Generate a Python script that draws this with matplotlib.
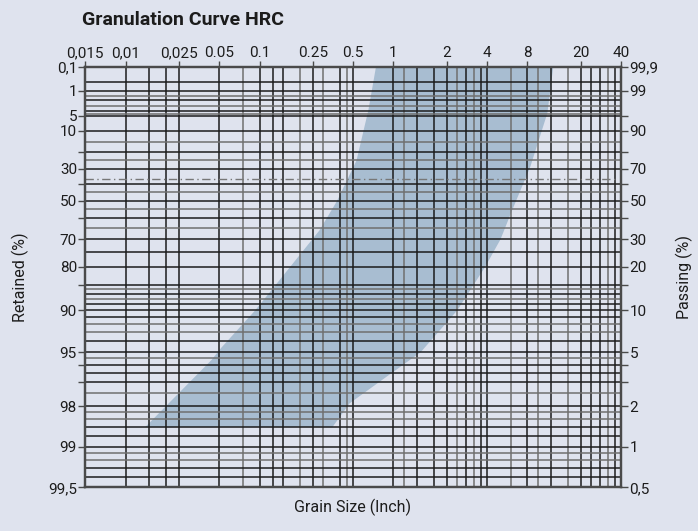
import numpy as np
import matplotlib
matplotlib.use("Agg")
import matplotlib.pyplot as plt

BG = "#dfe3ee"
BAND = "#a8bdd1"
DARK = "#1c1c1c"
GRAY = "#6f6f6f"
FRAME = "#4a4a4a"

# grain size axis (inch); printed labels sit on these log positions
x_tick_pos = [0.005, 0.01, 0.025, 0.05, 0.1, 0.25, 0.5, 1, 2.5, 5, 10, 25, 50]
x_tick_labels = ["0,015", "0,01", "0,025", "0.05", "0.1", "0.25", "0.5",
                 "1", "2", "4", "8", "20", "40"]
x_grid_major = [0.01, 0.015, 0.02, 0.025, 0.05, 0.1, 0.125, 0.15, 0.25, 0.4,
                0.5, 1, 1.5, 2, 2.5, 3.5, 4.5, 5, 10, 15, 25, 30, 35, 45]
x_grid_minor = [0.075, 0.2, 0.3, 0.45, 1.2, 3, 4, 7.5, 12, 20, 40]

# retained (%) axis, Rosin-Rammler scale
y_ticks = [0.1, 1, 5, 10, 20, 30, 40, 50, 60, 70, 80, 85, 90, 95, 96, 97, 98, 99, 99.5]
y_left_labels = ["0,1", "1", "5", "10", "", "30", "", "50", "", "70", "80", "",
                 "90", "95", "", "", "98", "99", "99,5"]
y_right_labels = ["99,9", "99", "", "90", "", "70", "", "50", "", "30", "20", "",
                  "10", "5", "", "", "2", "1", "0,5"]
y_grid_major = [0.5, 1, 2, 4, 5, 10, 20, 30, 40, 50, 60, 70, 75, 80, 85, 87, 89,
                90, 91, 94, 95, 96, 96.5, 97, 98, 98.6, 98.8, 99, 99.3, 99.4]
y_grid_minor = [1.5, 3, 4.5, 15, 25, 45, 55, 65, 86, 88, 92, 93, 95.5, 97.5,
                98.2, 98.4, 99.1, 99.2]
char_line = 100 / np.e  # 36.8 % retained

# HRC band limits
fine_size = [0.74, 0.65, 0.53, 0.38, 0.28, 0.17, 0.093, 0.052, 0.044, 0.014]
fine_ret = [0.1, 3.7, 25, 50, 66, 80, 90, 94.6, 95.6, 98.6]
coarse_size = [15.6, 14.1, 10.5, 7.7, 6.3, 4.85, 3.0, 1.6, 0.47, 0.35]
coarse_ret = [0.1, 4.4, 29, 55.5, 70, 80, 90, 95, 97.9, 98.6]


def fwd(r):
    r = np.clip(r, 1e-9, 100 - 1e-9)
    return -np.log10(np.log(100.0 / r))


def inv(g):
    return 100.0 * np.exp(-10.0 ** (-np.asarray(g)))


plt.rcParams["font.family"] = ["Roboto", "DejaVu Sans"]

fig = plt.figure(figsize=(6.98, 5.31), dpi=100, facecolor=BG)
ax = fig.add_axes([85.3 / 698, 1 - 487.3 / 531, (621 - 85.3) / 698, (487.3 - 67) / 531])
ax.set_facecolor(BG)
ax.set_xscale("log")
ax.set_yscale("function", functions=(fwd, inv))
ax.set_xlim(0.005, 50)
ax.set_ylim(99.5, 0.1)

ax.fill(np.r_[fine_size, coarse_size[::-1]], np.r_[fine_ret, coarse_ret[::-1]],
        color=BAND, lw=0, zorder=1)

for v in x_grid_major:
    ax.axvline(v, color=DARK, lw=1.1, zorder=2)
for v in x_grid_minor:
    ax.axvline(v, color=GRAY, lw=1.1, zorder=2)
for v in y_grid_major:
    ax.axhline(v, color=DARK, lw=1.1, zorder=2)
for v in y_grid_minor:
    ax.axhline(v, color=GRAY, lw=1.1, zorder=2)
ax.axhline(char_line, xmax=0.99, color="#777777", lw=1, ls=(0, (6, 2.5, 1, 2.5)), zorder=3)

ax.xaxis.tick_top()
ax.set_xticks(x_tick_pos, x_tick_labels)
ax.xaxis.set_minor_locator(matplotlib.ticker.NullLocator())
ax.tick_params(axis="x", length=4, width=1, color=FRAME, labelsize=11,
               labelcolor=DARK, pad=1)

ax.set_yticks(y_ticks, y_left_labels)
ax.yaxis.set_minor_locator(matplotlib.ticker.NullLocator())
ax.tick_params(axis="y", length=5, width=1, color=FRAME, labelsize=11,
               labelcolor=DARK, pad=1)

ax2 = ax.twinx()
ax2.set_yscale("function", functions=(fwd, inv))
ax2.set_ylim(99.5, 0.1)
ax2.set_yticks(y_ticks, y_right_labels)
ax2.yaxis.set_minor_locator(matplotlib.ticker.NullLocator())
ax2.tick_params(axis="y", length=5, width=1, color=FRAME, labelsize=11,
                labelcolor=DARK, pad=1)

for a in (ax, ax2):
    for s in a.spines.values():
        s.set_color(FRAME)
        s.set_linewidth(1.6)
        s.set_zorder(4)

fig.text(82 / 698, 1 - 20 / 531, "Granulation Curve HRC", ha="left", va="center",
         fontsize=14, fontweight="bold", color=DARK)
fig.text(20 / 698, 1 - 277 / 531, "Retained (%)", rotation=90, ha="center",
         va="center", fontsize=11.5, color=DARK)
fig.text(684 / 698, 1 - 277 / 531, "Passing (%)", rotation=90, ha="center",
         va="center", fontsize=11.5, color=DARK)
fig.text(353 / 698, 1 - 507 / 531, "Grain Size (Inch)", ha="center", va="center",
         fontsize=11.5, color=DARK)

fig.savefig("out.png", dpi=100, facecolor=BG)
